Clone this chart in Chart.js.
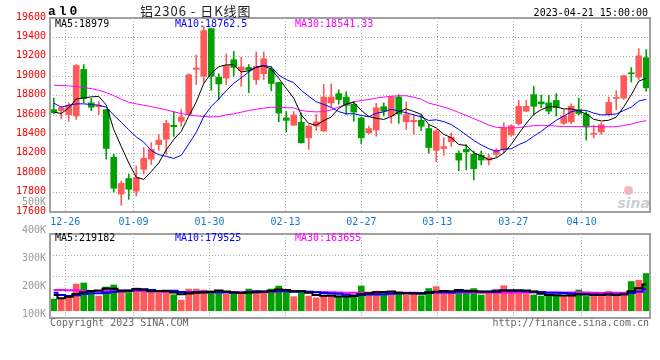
<!DOCTYPE html>
<html><head><meta charset="utf-8">
<script src="https://cdn.jsdelivr.net/npm/chart.js@4.4.0/dist/chart.umd.min.js"></script>
<style>
html,body{margin:0;padding:0;background:#fff;}
#wrap{position:relative;width:660px;height:360px;overflow:hidden;background:#fff;}
canvas{position:absolute;left:0;}
.t{position:absolute;white-space:nowrap;font-family:'DejaVu Sans Mono',monospace;font-size:10px;line-height:12px;}
</style></head><body>
<div id="wrap">
<canvas id="pc" width="660" height="232" style="top:0px"></canvas>
<canvas id="vc" width="660" height="170" style="top:190px"></canvas>
<div class="t" style="left:48px;top:4px;font-family:'Liberation Mono',monospace;font-weight:bold;font-size:13px;line-height:16px;letter-spacing:3px;color:#000">al0</div>
<div class="t" id="title" style="left:140px;top:3px;font-family:'Noto Sans CJK SC',sans-serif;font-size:13px;line-height:16px;letter-spacing:1px;color:#222"></div>
<div class="t" id="time" style="right:12px;top:7px;color:#000"></div>
<div class="t" id="pm5" style="left:55px;top:18px;color:#000"></div>
<div class="t" id="pm10" style="left:175px;top:18px;color:#0000ff"></div>
<div class="t" id="pm30" style="left:295px;top:18px;color:#ff00ff"></div>
<div class="t" id="vm5" style="left:55px;top:232px;color:#000"></div>
<div class="t" id="vm10" style="left:175px;top:232px;color:#0000ff"></div>
<div class="t" id="vm30" style="left:295px;top:232px;color:#ff00ff"></div>
<div class="t" style="left:50px;top:317px;color:#666">Copyright 2023 SINA.COM</div>
<div class="t" style="right:11px;top:317px;color:#666">http://finance.sina.com.cn</div>
<div class="t" style="left:624px;top:186px;width:9px;height:9px;border-radius:50%;background:#f3b8b8"></div>
<div class="t" style="right:10px;top:194px;font-family:'DejaVu Sans',sans-serif;font-style:italic;font-weight:bold;font-size:14px;line-height:18px;color:#cfcfcf">sina</div>
</div>
<script>
const TITLE = '铝2306 - 日K线图';
const TIME = '2023-04-21 15:00:00';
const DATES = ['12-22','12-23','12-26','12-27','12-28','12-29','12-30','01-03','01-04','01-05','01-06','01-09','01-10','01-11','01-12','01-13','01-16','01-17','01-18','01-19','01-20','01-30','01-31','02-01','02-02','02-03','02-06','02-07','02-08','02-09','02-10','02-13','02-14','02-15','02-16','02-17','02-20','02-21','02-22','02-23','02-24','02-27','02-28','03-01','03-02','03-03','03-06','03-07','03-08','03-09','03-10','03-13','03-14','03-15','03-16','03-17','03-20','03-21','03-22','03-23','03-24','03-27','03-28','03-29','03-30','03-31','04-03','04-04','04-06','04-07','04-10','04-11','04-12','04-13','04-14','04-17','04-18','04-19','04-20','04-21'];
const TICK_DATES = ['12-26','01-09','01-30','02-13','02-27','03-13','03-27','04-10'];
const PRICE_TICKS = [17600,17800,18000,18200,18400,18600,18800,19000,19200,19400,19600];
const VOL_TICKS = [500000,400000,300000,200000,100000];

const OPEN = [18655,18645,18605,18590,19070,18725,18685,18655,18165,17785,17945,17815,18040,18145,18295,18350,18495,18535,18610,19070,19000,19490,18990,18980,19170,19060,19090,18965,19025,19070,18935,18570,18495,18525,18365,18485,18435,18725,18820,18785,18710,18570,18415,18445,18685,18590,18785,18530,18530,18545,18460,18235,18255,18325,18205,18245,18195,18185,18135,18195,18245,18395,18510,18640,18810,18735,18725,18750,18515,18530,18655,18610,18400,18425,18610,18770,18775,19035,18990,19190];
const HIGH = [18775,18690,18725,19120,19120,18770,18740,18660,18195,17920,17990,18075,18265,18315,18400,18545,18635,18655,19025,19220,19515,19495,19025,19230,19255,19195,19120,19250,19250,19100,18940,18635,18635,18620,18500,18605,18915,18920,18860,18840,18740,18580,18485,18720,18725,18795,18810,18735,18605,18605,18495,18450,18365,18415,18230,18295,18230,18230,18195,18255,18520,18500,18750,18750,18895,18805,18805,18820,18655,18715,18775,18635,18495,18520,18785,18850,19010,19090,19285,19275];
const LOW = [18615,18565,18535,18555,18725,18645,18605,18145,17805,17670,17730,17765,17990,18090,18235,18195,18380,18485,18605,18915,18930,18855,18760,18915,19000,18895,18830,18915,18965,18850,18530,18425,18495,18310,18245,18440,18430,18680,18710,18605,18535,18305,18410,18380,18590,18515,18515,18450,18400,18440,18205,18120,18185,18275,18025,18035,17930,18085,18085,18170,18210,18380,18495,18635,18600,18675,18610,18590,18500,18510,18600,18340,18365,18400,18590,18655,18760,18940,18965,18845];
const CLOSE = [18625,18675,18700,19110,18770,18680,18700,18255,17845,17895,17835,17955,18155,18245,18340,18515,18480,18580,19015,19085,19470,19000,18920,19110,19090,19095,19065,19100,19180,18925,18620,18545,18600,18315,18485,18530,18785,18785,18760,18700,18630,18365,18460,18675,18640,18785,18610,18605,18545,18485,18265,18435,18275,18370,18135,18220,18045,18135,18160,18230,18470,18490,18690,18690,18690,18715,18640,18680,18590,18690,18615,18475,18410,18500,18730,18775,19005,19025,19210,18880];

const MA5 = [18630,18615,18675,18765,18776,18787,18792,18703,18450,18275,18106,17957,17937,18017,18106,18242,18347,18432,18586,18735,18926,19030,19098,19117,19118,19043,19056,19092,19106,19073,18978,18874,18774,18601,18513,18495,18543,18580,18669,18712,18732,18648,18583,18566,18554,18585,18634,18663,18637,18606,18502,18467,18401,18366,18296,18287,18209,18181,18139,18158,18208,18297,18408,18514,18606,18655,18685,18683,18663,18663,18643,18610,18556,18538,18546,18578,18684,18807,18949,18979];
const MA10 = [18722,18681,18701,18715,18715,18708,18701,18681,18598,18525.5,18446.5,18374.5,18320,18233.5,18190.5,18174,18152,18184.5,18301.5,18420.5,18584,18688.5,18765,18851.5,18926.5,18984.5,19043,19095,19111.5,19095.5,19010.5,18965,18933,18853.5,18793,18736.5,18708.5,18677,18635,18612.5,18613.5,18595.5,18581.5,18617.5,18633,18658.5,18641,18623,18601.5,18580,18543.5,18550.5,18532,18501.5,18451,18394.5,18338,18291,18252.5,18227,18247.5,18253,18294.5,18326.5,18382,18431.5,18491,18545.5,18588.5,18634.5,18649,18647.5,18619.5,18600.5,18604.5,18610.5,18647,18681.5,18743.5,18762.5];
const MA30 = [18907,18903,18900,18893,18883,18872,18855,18831,18800,18763,18732,18715,18701,18687,18670,18653,18633,18615,18602,18591,18585,18580,18583,18602,18612,18629,18646,18660,18670,18680.5,18680.3,18676.0,18672.7,18646.2,18636.7,18631.7,18634.5,18652.2,18682.7,18709.5,18736.0,18749.7,18759.8,18774.2,18784.2,18793.2,18797.5,18798.3,18782.7,18762.7,18722.5,18703.7,18682.2,18657.5,18625.7,18596.5,18562.5,18530.3,18496.3,18473.2,18468.2,18466.3,18469.3,18481.8,18488.7,18494.8,18490.0,18486.5,18480.8,18480.5,18480.0,18483.7,18482.0,18476.2,18479.2,18478.8,18492.0,18506.0,18528.2,18541.33];

const VOLUME = [98000,98000,118000,224000,233000,153000,123000,199000,216000,153000,153000,191000,167000,153000,149000,165000,134000,90000,182000,182000,174000,165000,151000,138000,138000,157000,182000,165000,157000,182000,207000,157000,118000,151000,123000,107000,129000,118000,123000,118000,132000,207000,149000,165000,132000,149000,157000,132000,149000,126000,186000,202000,161000,145000,178000,153000,186000,132000,147400,178000,210000,178000,145000,137000,132000,123000,123000,132000,126000,140000,175000,120000,120000,120000,164340,135000,148000,245000,256000,311910];
const VMA5 = [132000,104000,118000,140000,154200,165200,170200,186400,184800,168800,168800,182400,176000,163400,162600,165000,153600,138200,144000,150600,152400,158600,170800,162000,153200,149800,153200,156000,159800,168600,178600,173600,164200,163000,151200,131200,125600,125600,120000,119000,124000,139600,145800,154200,157000,160400,150400,147000,143800,142600,150000,159000,164800,164000,174400,167800,164600,158800,159280,159280,170680,169080,171680,169600,160400,143000,132000,129400,127200,128800,139200,138600,136200,135000,139868,131868,137468,162468,189668,219182];
const VMA10 = [151000,132000,123000,129000,140000,146000,146000,151000,160000,161500,167000,176300,181200,174100,165700,166900,168000,157100,153700,156600,158700,156100,154500,153000,151900,151100,155900,163400,160900,160900,164200,163400,160100,161400,159900,154900,149600,144900,141500,135100,127600,132600,135700,137100,138000,142200,145000,146400,149000,149800,155200,154700,155900,153900,158500,158900,161800,161800,161640,166840,169240,166840,165240,164440,159840,156840,150540,150540,148400,144600,141100,135300,132800,131100,134334,135534,138034,149334,162334,179525];
const VMA30 = [175000,173000,171000,169000,167000,166000,166000,167000,167000,167000,166000,166000,165000,164000,162000,160000,158000,156000,156000,156000,156000,156000,156000,157000,157000,158000,158000,159000,159000,159670,163300,165270,165270,162830,159170,157630,157830,155130,152030,150870,150170,150700,150100,150500,149930,149400,150170,151570,150470,148600,149000,150230,150570,150800,152130,152000,152130,151030,150710,150580,150680,151380,152280,151810,152110,152650,152450,152910,153010,153750,155180,152280,151310,149810,150890,150420,150120,153890,157460,163655];

const RED = '#ff5a5a', GREEN = '#00a000';
const GRID = '#aaaaaa';
const MONO = 'DejaVu Sans Mono';
const last = a => a[a.length - 1];
const isUp = i => CLOSE[i] >= OPEN[i];
const colorFn = ctx => isUp(ctx.dataIndex) ? RED : GREEN;

document.getElementById('title').textContent = TITLE;
document.getElementById('time').textContent = TIME;
document.getElementById('pm5').textContent = 'MA5:' + last(MA5);
document.getElementById('pm10').textContent = 'MA10:' + last(MA10);
document.getElementById('pm30').textContent = 'MA30:' + last(MA30);
document.getElementById('vm5').textContent = 'MA5:' + last(VMA5);
document.getElementById('vm10').textContent = 'MA10:' + last(VMA10);
document.getElementById('vm30').textContent = 'MA30:' + last(VMA30);

const frame = {
  id: 'frame',
  afterDraw(chart) {
    const a = chart.chartArea, ctx = chart.ctx;
    ctx.save();
    ctx.strokeStyle = '#a0a0a0';
    ctx.lineWidth = 2;
    ctx.strokeRect(a.left, a.top, a.right - a.left, a.bottom - a.top);
    ctx.restore();
  }
};
const volLabels = {
  id: 'volLabels',
  afterDraw(chart) {
    const s = chart.scales.yl, ctx = chart.ctx;
    ctx.save();
    ctx.font = '10px "' + MONO + '"';
    ctx.fillStyle = '#999999';
    ctx.textAlign = 'right';
    ctx.textBaseline = 'middle';
    VOL_TICKS.forEach(v => ctx.fillText((v / 1000) + 'K', 46, s.getPixelForValue(v)));
    ctx.restore();
  }
};

const gridAxis = (showLabels, h) => ({
  type: 'linear', position: 'bottom', min: 0, max: DATES.length - 1,
  offset: false,
  afterBuildTicks: s => { s.ticks = TICK_DATES.map(d => ({ value: DATES.indexOf(d) })); },
  afterFit: s => { s.height = h; },
  grid: { color: GRID, lineWidth: 1, drawTicks: false, offset: false },
  border: { display: false, dash: [1, 2] },
  ticks: { display: showLabels, color: '#1478d2', font: { family: MONO, size: 10 }, padding: 4,
           maxRotation: 0, autoSkip: false, callback: v => DATES[v] }
});

const common = {
  responsive: false, animation: false, devicePixelRatio: 1,
  plugins: { legend: { display: false }, tooltip: { enabled: false } }
};

new Chart(document.getElementById('pc'), {
  type: 'bar',
  data: {
    labels: DATES,
    datasets: [
      { type: 'line', data: MA5, borderColor: '#000000', borderWidth: 1, pointRadius: 0, tension: 0, order: 0, xAxisID: 'x', yAxisID: 'y' },
      { type: 'line', data: MA10, borderColor: '#0000ff', borderWidth: 1, pointRadius: 0, tension: 0, order: 0, xAxisID: 'x', yAxisID: 'y' },
      { type: 'line', data: MA30, borderColor: '#ff00ff', borderWidth: 1, pointRadius: 0, tension: 0, order: 0, xAxisID: 'x', yAxisID: 'y' },
      { type: 'bar', data: DATES.map((d, i) => [OPEN[i], CLOSE[i]]), backgroundColor: colorFn, barThickness: 6, minBarLength: 1, grouped: false, order: 1, xAxisID: 'x', yAxisID: 'y' },
      { type: 'bar', data: DATES.map((d, i) => [LOW[i], HIGH[i]]), backgroundColor: colorFn, barThickness: 1, grouped: false, order: 2, xAxisID: 'x', yAxisID: 'y' }
    ]
  },
  options: Object.assign({}, common, {
    layout: { padding: { top: 18, right: 10, left: 0, bottom: 0 } },
    scales: {
      x: { type: 'category', offset: true, display: false },
      xg: gridAxis(true, 20),
      y: {
        type: 'linear', position: 'left', min: 17600, max: 19600,
        afterBuildTicks: s => { s.ticks = PRICE_TICKS.map(v => ({ value: v })); },
        afterFit: s => { s.width = 50; },
        grid: { color: GRID, lineWidth: 1, drawTicks: false },
        border: { display: false, dash: [1, 2] },
        ticks: { color: '#ff0000', font: { family: MONO, size: 10 }, padding: 4, labelOffset: -1, callback: v => String(v) }
      }
    }
  }),
  plugins: [frame]
});

new Chart(document.getElementById('vc'), {
  type: 'bar',
  data: {
    labels: DATES,
    datasets: [
      { type: 'line', data: VMA5, borderColor: '#000000', borderWidth: 2, pointRadius: 0, stepped: 'middle', order: 0, xAxisID: 'x', yAxisID: 'yv' },
      { type: 'line', data: VMA10, borderColor: '#0000ff', borderWidth: 2, pointRadius: 0, stepped: 'middle', order: 0, xAxisID: 'x', yAxisID: 'yv' },
      { type: 'line', data: VMA30, borderColor: '#ff00ff', borderWidth: 2, pointRadius: 0, stepped: 'middle', order: 0, xAxisID: 'x', yAxisID: 'yv' },
      { type: 'bar', data: VOLUME, backgroundColor: colorFn, barThickness: 6, grouped: false, order: 1, xAxisID: 'x', yAxisID: 'yv' }
    ]
  },
  options: Object.assign({}, common, {
    layout: { padding: { top: 44, right: 10, left: 0, bottom: 0 } },
    scales: {
      x: { type: 'category', offset: true, display: false },
      xg: gridAxis(false, 42),
      yv: {
        type: 'linear', position: 'left', min: -61000, max: 644000,
        afterFit: s => { s.width = 50; },
        grid: { color: GRID, lineWidth: 1, drawTicks: false },
        border: { display: false, dash: [1, 2] },
        ticks: { display: false, count: 5 }
      },
      yl: { type: 'linear', position: 'left', min: 89000, max: 387000, display: false }
    }
  }),
  plugins: [frame, volLabels]
});
</script>
</body></html>
